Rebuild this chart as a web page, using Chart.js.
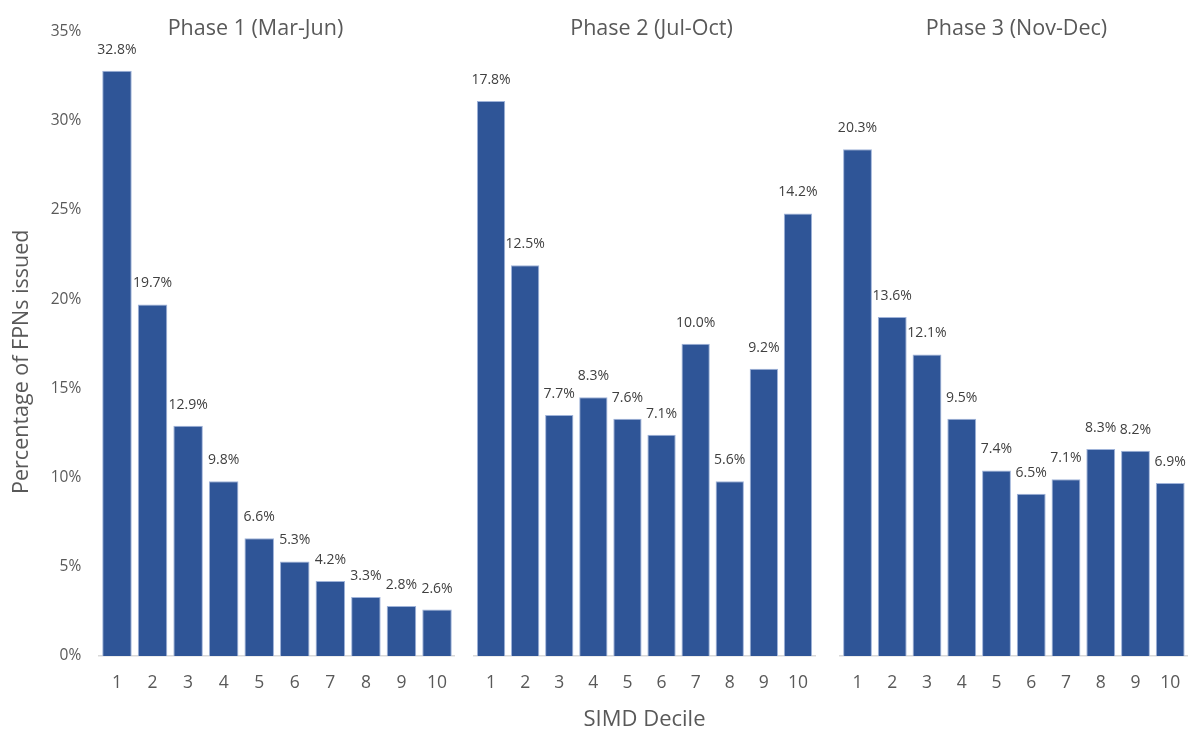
<!DOCTYPE html>
<html>
<head>
<meta charset="utf-8">
<script src="https://cdn.jsdelivr.net/npm/chart.js@4.4.1/dist/chart.umd.min.js"></script>
<style>
  html, body { margin: 0; padding: 0; background: #ffffff; overflow: hidden; }
  body { width: 1188px; height: 731px; position: relative; }
  canvas { position: absolute; top: 0; }
</style>
</head>
<body>
<canvas id="c1" width="511" height="731" style="left:0px"></canvas>
<canvas id="c2" width="371" height="731" style="left:466px"></canvas>
<canvas id="c3" width="361" height="731" style="left:836px"></canvas>
<script>
// ---- data ----
const deciles = ['1', '2', '3', '4', '5', '6', '7', '8', '9', '10'];
const phaseTitles = ['Phase 1 (Mar-Jun)', 'Phase 2 (Jul-Oct)', 'Phase 3 (Nov-Dec)'];
const phase1Values = [32.8, 19.7, 12.9, 9.8, 6.6, 5.3, 4.2, 3.3, 2.8, 2.6];
const phase2Values = [31.1, 21.9, 13.5, 14.5, 13.3, 12.4, 17.5, 9.8, 16.1, 24.8];
const phase3Values = [28.4, 19.0, 16.9, 13.3, 10.4, 9.1, 9.9, 11.6, 11.5, 9.7];
const phase1Labels = ['32.8%', '19.7%', '12.9%', '9.8%', '6.6%', '5.3%', '4.2%', '3.3%', '2.8%', '2.6%'];
const phase2Labels = ['17.8%', '12.5%', '7.7%', '8.3%', '7.6%', '7.1%', '10.0%', '5.6%', '9.2%', '14.2%'];
const phase3Labels = ['20.3%', '13.6%', '12.1%', '9.5%', '7.4%', '6.5%', '7.1%', '8.3%', '8.2%', '6.9%'];
const yMin = 0, yMax = 35, yStep = 5;
const yAxisTitle = 'Percentage of FPNs issued';
const xAxisTitle = 'SIMD Decile';

// ---- styling ----
const FONT = "'Open Sans', 'Noto Sans', sans-serif";
const BAR = '#2F5597';
const BAR_EDGE = '#9FB3D9';
const AXIS_TEXT = '#595959';
const LABEL_TEXT = '#404040';

const valueLabelPlugin = {
  id: 'valueLabels',
  afterDatasetsDraw(chart, args, opts) {
    const meta = chart.getDatasetMeta(0);
    const ctx = chart.ctx;
    ctx.save();
    ctx.font = '14px ' + FONT;
    ctx.fillStyle = LABEL_TEXT;
    ctx.textAlign = 'center';
    ctx.textBaseline = 'middle';
    meta.data.forEach((bar, i) => {
      ctx.fillText(opts.labels[i], bar.x, bar.y - 21);
    });
    ctx.restore();
  }
};

// y-axis title, placed a little below the plot's vertical centre as in the original
const yTitlePlugin = {
  id: 'yTitle',
  afterDraw(chart, args, opts) {
    if (!opts.show) return;
    const ctx = chart.ctx;
    const a = chart.chartArea;
    ctx.save();
    ctx.translate(22, (a.top + a.bottom) / 2 + 18);
    ctx.rotate(-Math.PI / 2);
    ctx.font = '21.5px ' + FONT;
    ctx.fillStyle = AXIS_TEXT;
    ctx.textAlign = 'center';
    ctx.textBaseline = 'middle';
    ctx.fillText(yAxisTitle, 0, 0);
    ctx.restore();
  }
};

function makeChart(id, title, values, labels, cfg) {
  const ctx = document.getElementById(id);
  return new Chart(ctx, {
    type: 'bar',
    data: {
      labels: deciles,
      datasets: [{
        data: values,
        backgroundColor: BAR,
        borderColor: BAR_EDGE,
        borderWidth: 1,
        categoryPercentage: 1.0,
        barPercentage: 0.83
      }]
    },
    options: {
      responsive: false,
      animation: false,
      devicePixelRatio: 1,
      layout: { padding: 0 },
      plugins: {
        legend: { display: false },
        tooltip: { enabled: false },
        title: {
          display: true,
          text: title,
          color: AXIS_TEXT,
          font: { family: FONT, size: 21.5, weight: 'normal', lineHeight: 1 },
          padding: { top: 18, bottom: -8 }
        },
        valueLabels: { labels: labels },
        yTitle: { show: cfg.yTicks }
      },
      scales: {
        x: {
          type: 'category',
          offset: true,
          grid: { display: false, drawTicks: false, tickLength: 0 },
          border: { display: true, color: '#D9D9D9', width: 1.5 },
          ticks: { color: AXIS_TEXT, font: { family: FONT, size: 17.5 }, padding: 16.5, maxRotation: 0, autoSkip: false },
          title: {
            display: cfg.xTitle,
            text: xAxisTitle,
            color: AXIS_TEXT,
            font: { family: FONT, size: 22, lineHeight: 1 },
            padding: { top: 0, bottom: 0 }
          },
          afterFit(s) { s.height = 75; }
        },
        y: {
          type: 'linear',
          position: 'left',
          min: yMin,
          max: yMax,
          grid: { display: false, drawTicks: false, tickLength: 0 },
          border: { display: false },
          ticks: {
            display: cfg.yTicks,
            stepSize: yStep,
            color: AXIS_TEXT,
            font: { family: FONT, size: 15.5 },
            padding: 18,
            callback: (v) => v + '%'
          },
          title: { display: false },
          afterFit(s) { s.width = cfg.left; }
        },
        yR: {
          type: 'linear',
          position: 'right',
          min: yMin,
          max: yMax,
          grid: { display: false, drawTicks: false },
          border: { display: false },
          ticks: { display: false },
          afterFit(s) { s.width = cfg.right; }
        }
      }
    },
    plugins: [valueLabelPlugin, yTitlePlugin]
  });
}

makeChart('c1', phaseTitles[0], phase1Values, phase1Labels, { left: 99.2, right: 56.2, yTicks: true, xTitle: false });
makeChart('c2', phaseTitles[1], phase2Values, phase2Labels, { left: 8, right: 22, yTicks: false, xTitle: true });
makeChart('c3', phaseTitles[2], phase3Values, phase3Labels, { left: 3.4, right: 6, yTicks: false, xTitle: false });
</script>
</body>
</html>
